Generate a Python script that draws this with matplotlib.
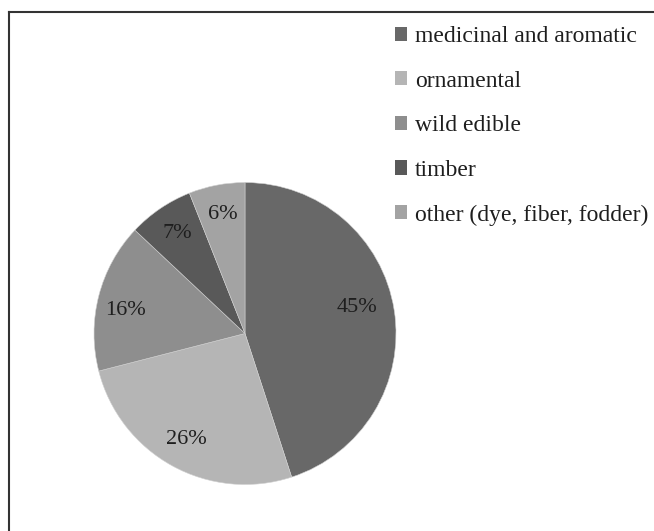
import matplotlib
matplotlib.use("Agg")
import matplotlib.pyplot as plt
from matplotlib.patches import Patch
from matplotlib.lines import Line2D

plt.rcParams['font.family'] = ['Liberation Serif', 'DejaVu Serif']

# 植物用途分类占比
categories = ["medicinal and aromatic", "ornamental", "wild edible", "timber",
              "other (dye, fiber, fodder)"]
shares = [45, 26, 16, 7, 6]
colors = ["#686868", "#b5b5b5", "#8e8e8e", "#595959", "#a3a3a3"]

W, H = 654, 531
fig = plt.figure(figsize=(W / 100, H / 100), dpi=100)

cx, cy, r = 245, 333.5, 151  # 饼图中心与半径（像素）
ax = fig.add_axes([(cx - r) / W, (H - cy - r) / H, 2 * r / W, 2 * r / H])
wedges, _, autotexts = ax.pie(shares, colors=colors, startangle=90, counterclock=False,
                              autopct="%d%%", pctdistance=0.8,
                              wedgeprops=dict(edgecolor="#d0d0d0", linewidth=0.4),
                              textprops=dict(fontsize=16, color="#1e1e1e"))
autotexts[0].set_position((0.74, 0.17))
autotexts[2].set_position((-0.79, 0.15))
ax.set_xlim(-1, 1)
ax.set_ylim(-1, 1)

handles = [Patch(facecolor=c, edgecolor="none") for c in colors]
fig.legend(handles, categories, loc="upper left", bbox_to_anchor=(395 / W, 1 - 26 / H),
           frameon=False, fontsize=17, handlelength=0.5, handleheight=0.55,
           handletextpad=0.35, labelspacing=1.0, borderaxespad=0, borderpad=0,
           labelcolor="#1e1e1e")

# 外框（上边与左边）
fig.add_artist(Line2D([9 / W, 1], [1 - 12 / H] * 2, color="#333333", lw=1.5))
fig.add_artist(Line2D([9 / W] * 2, [0, 1 - 12 / H], color="#333333", lw=1.5))

fig.savefig("out.png", dpi=100)
